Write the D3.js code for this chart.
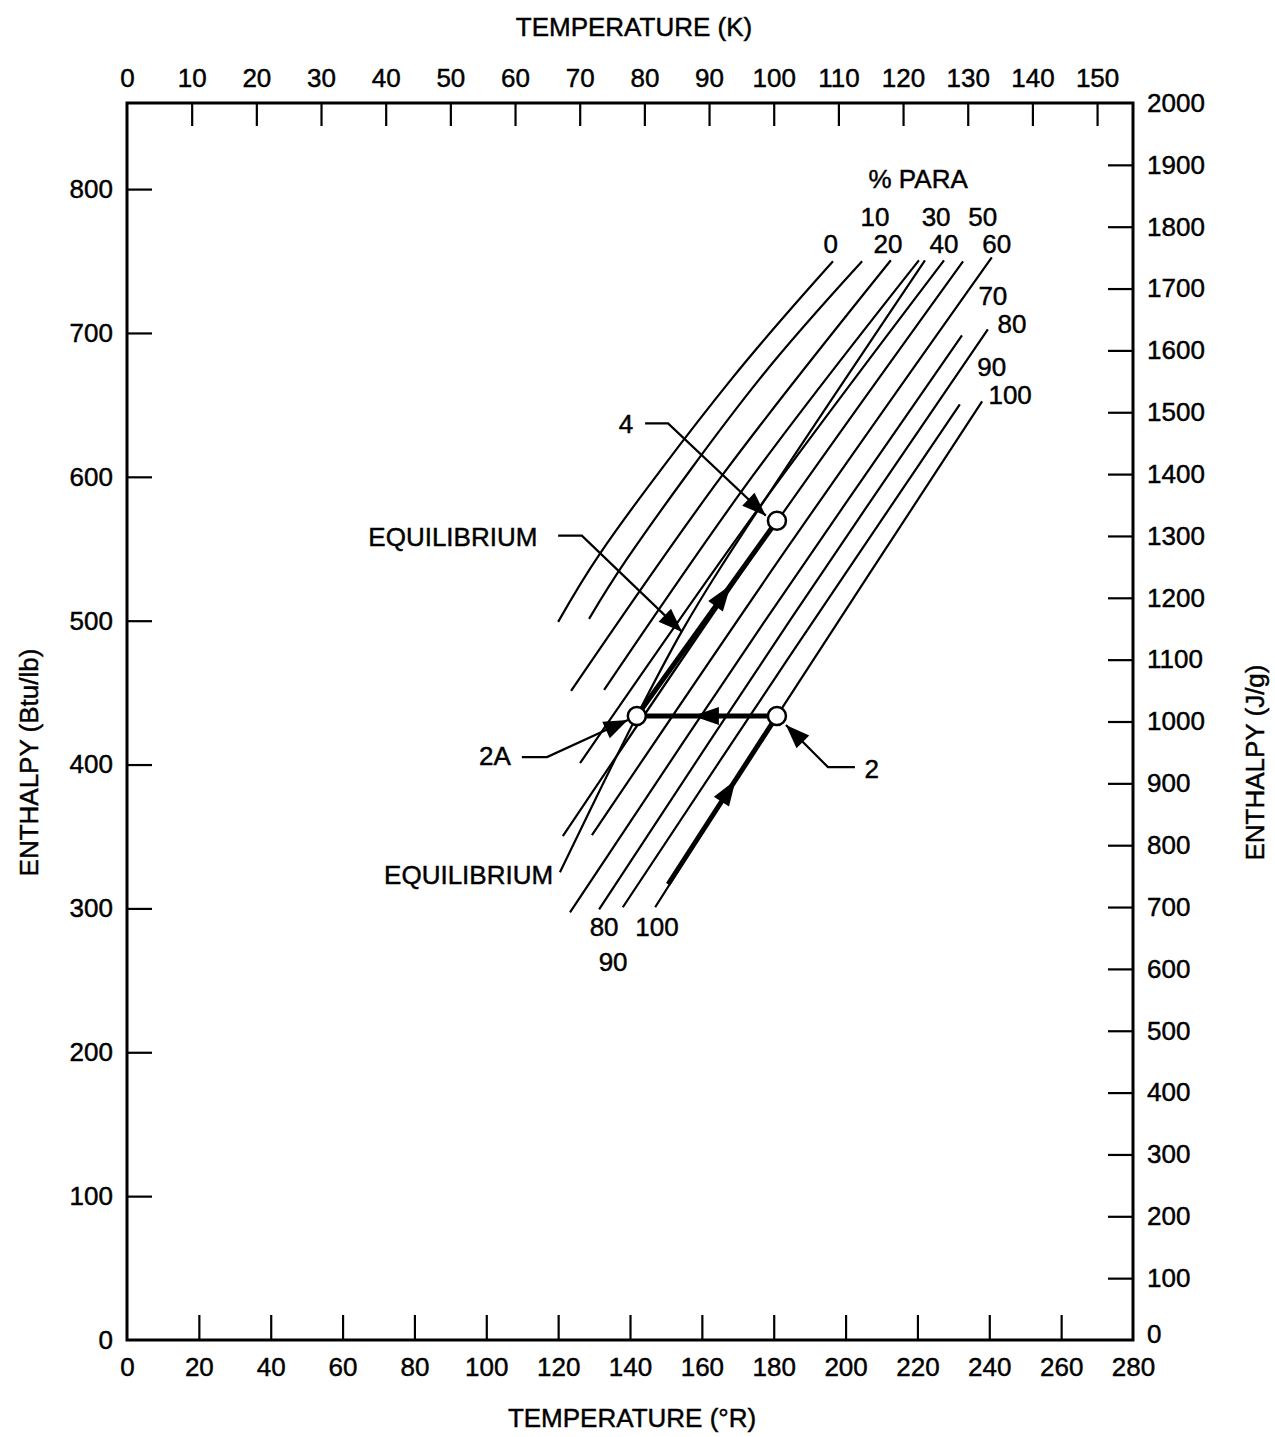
<!DOCTYPE html>
<html>
<head>
<meta charset="utf-8">
<script src="https://cdn.jsdelivr.net/npm/d3@7"></script>
<style>
  body { margin: 0; background: #fff; }
  svg text { font-family: "Liberation Sans", Arial, sans-serif; fill: #000; stroke: #000; stroke-width: 0.45px; }
</style>
</head>
<body>
<div id="chart"></div>
<script>
// tick values
var rankineTicks = [0, 20, 40, 60, 80, 100, 120, 140, 160, 180, 200, 220, 240, 260, 280];
var kelvinTicks = [0, 10, 20, 30, 40, 50, 60, 70, 80, 90, 100, 110, 120, 130, 140, 150];
var btuTicks = [0, 100, 200, 300, 400, 500, 600, 700, 800];
var jgTicks = [0, 100, 200, 300, 400, 500, 600, 700, 800, 900, 1000, 1100, 1200, 1300, 1400, 1500, 1600, 1700, 1800, 1900, 2000];

// % para curves, [temperature (R), enthalpy (Btu/lb)]
var paraLevels = [0, 10, 20, 30, 40, 50, 60, 70, 80, 90, 100];
var para0 = [[120.0, 499.2], [131.6, 546.5], [168.4, 668.4], [196.5, 749.8]];
var para10 = [[128.6, 501.3], [139.2, 543.1], [176.2, 668.4], [204.6, 749.8]];
var para20 = [[123.6, 451.2], [165.6, 600.8], [212.6, 750.5]];
var para30 = [[132.8, 451.9], [174.2, 600.8], [220.4, 750.5]];
var para40 = [[126.1, 401.0], [175.1, 575.8], [227.4, 750.5]];
var para50 = [[121.3, 350.2], [175.6, 550.0], [232.7, 749.8]];
var para60 = [[129.4, 350.9], [184.0, 551.4], [240.7, 752.6]];
var para70 = [[123.3, 297.3], [177.0, 497.8], [232.4, 698.3]];
var para80 = [[131.4, 299.4], [184.8, 501.3], [239.6, 702.5]];
var para90 = [[138.0, 300.8], [184.5, 475.5], [231.8, 650.3]];
var para100 = [[147.0, 300.8], [180.9, 433.8], [238.0, 652.4]];
var equilibrium = [[120.5, 325.1], [141.9, 433.8], [154.5, 492.9], [165.0, 536.1], [222.1, 750.5]];

// curve labels [text, T, H]
var topLabels = [["0", 195.9, 762.4], ["10", 208.2, 781.2], ["20", 211.8, 762.4], ["30", 225.2, 781.2],
  ["40", 227.4, 762.4], ["50", 238.2, 781.2], ["60", 242.1, 762.4], ["70", 241.0, 726.2],
  ["80", 246.3, 706.7], ["90", 240.7, 676.7], ["100", 245.8, 657.3]];
var bottomLabels = [["80", 132.8, 287.5], ["100", 147.5, 287.5], ["90", 135.3, 263.2]];

// process states
var pathStart = [150.6, 316.8];
var state2 = [180.9, 433.8];
var state2A = [141.9, 433.8];
var state4 = [180.9, 569.5];

// annotations: label position, leader points (last = arrow tip)
var notes = [
  { text: "4", at: [138.9, 637.1], leader: [[144.2, 637.1], [150.6, 637.1], [177.8, 573.0]] },
  { text: "EQUILIBRIUM", at: [90.7, 558.4], leader: [[120.0, 559.1], [126.6, 559.1], [154.5, 492.2]] },
  { text: "2A", at: [102.4, 405.9], leader: [[109.9, 405.2], [116.9, 405.2], [139.4, 431.0]] },
  { text: "2", at: [207.3, 396.9], leader: [[202.6, 398.2], [195.1, 398.2], [183.4, 427.5]] }
];

function drawChart() {
  var width = 1275, height = 1437;
  var pl = 127, pr = 1133, pt = 103, pb = 1340;

  var svg = d3.select("#chart").append("svg")
    .attr("width", width)
    .attr("height", height);

  var x = d3.scaleLinear().domain([0, 280]).range([pl, pr]);
  var y = d3.scaleLinear().domain([0, 2000 / 2.326]).range([pb, pt]);
  var xK = d3.scaleLinear().domain([0, 280 / 1.8]).range([pl, pr]);
  var yJ = d3.scaleLinear().domain([0, 2000]).range([pb, pt]);

  function styleAxis(g) {
    g.select(".domain").remove();
    g.selectAll(".tick line").attr("stroke", "#000").attr("stroke-width", 2.2);
    g.selectAll(".tick text").style("font-size", "26px").style("font-family", "'Liberation Sans', Arial, sans-serif");
  }

  svg.append("g")
    .attr("transform", "translate(0," + pb + ")")
    .call(d3.axisBottom(x).tickValues(rankineTicks).tickSize(-25).tickPadding(18).tickFormat(d3.format("d")))
    .call(styleAxis)
    .call(function (g) { g.selectAll(".tick line").filter(function (d) { return d == 0 || d == 280; }).remove(); });

  svg.append("g")
    .attr("transform", "translate(0," + pt + ")")
    .call(d3.axisTop(xK).tickValues(kelvinTicks).tickSize(-23).tickPadding(16).tickFormat(d3.format("d")))
    .call(styleAxis)
    .call(function (g) { g.selectAll(".tick line").filter(function (d) { return d == 0; }).remove(); });

  svg.append("g")
    .attr("transform", "translate(" + pl + ",0)")
    .call(d3.axisLeft(y).tickValues(btuTicks).tickSize(-25).tickPadding(14).tickFormat(d3.format("d")))
    .call(styleAxis)
    .call(function (g) { g.selectAll(".tick line").filter(function (d) { return d == 0; }).remove(); });

  svg.append("g")
    .attr("transform", "translate(" + pr + ",0)")
    .call(d3.axisRight(yJ).tickValues(jgTicks).tickSize(-25).tickPadding(14).tickFormat(d3.format("d")))
    .call(styleAxis)
    .call(function (g) { g.selectAll(".tick line").filter(function (d) { return d == 0 || d == 2000; }).remove(); })
    .call(function (g) { g.selectAll(".tick text").filter(function (d) { return d == 0; }).attr("dy", "0.1em"); });

  // frame
  svg.append("rect")
    .attr("x", pl).attr("y", pt)
    .attr("width", pr - pl).attr("height", pb - pt)
    .attr("fill", "none").attr("stroke", "#000").attr("stroke-width", 3);

  // axis titles
  svg.append("text").attr("x", (pl + pr) / 2 + 4).attr("y", 36)
    .attr("text-anchor", "middle").style("font-size", "26px").text("TEMPERATURE (K)");
  svg.append("text").attr("x", (pl + pr) / 2 + 2).attr("y", 1427)
    .attr("text-anchor", "middle").style("font-size", "26px").text("TEMPERATURE (°R)");
  svg.append("text").attr("transform", "translate(38," + (y(400) - 2) + ") rotate(-90)")
    .attr("text-anchor", "middle").style("font-size", "26px").text("ENTHALPY (Btu/lb)");
  svg.append("text").attr("transform", "translate(1264," + (y(400) - 2) + ") rotate(-90)")
    .attr("text-anchor", "middle").style("font-size", "26px").text("ENTHALPY (J/g)");

  // para curves
  var line = d3.line()
    .x(function (d) { return x(d[0]); })
    .y(function (d) { return y(d[1]); })
    .curve(d3.curveCatmullRom);

  var curves = [para0, para10, para20, para30, para40, para50, para60, para70, para80, para90, para100, equilibrium];
  svg.append("g").selectAll("path")
    .data(curves)
    .enter()
    .append("path")
    .attr("d", line)
    .attr("fill", "none")
    .attr("stroke", "#000")
    .attr("stroke-width", 2.2);

  svg.append("g").selectAll("text")
    .data(topLabels.concat(bottomLabels))
    .enter()
    .append("text")
    .attr("x", function (d) { return x(d[1]); })
    .attr("y", function (d) { return y(d[2]); })
    .attr("dy", "0.36em")
    .attr("text-anchor", "middle")
    .style("font-size", "26px")
    .text(function (d) { return d[0]; });

  svg.append("text").attr("x", x(220.2)).attr("y", y(807.6)).attr("dy", "0.36em")
    .attr("text-anchor", "middle").style("font-size", "26px").text("% PARA");
  svg.append("text").attr("x", x(118.6)).attr("y", y(323.7)).attr("dy", "0.36em")
    .attr("text-anchor", "end").style("font-size", "26px").text("EQUILIBRIUM");

  // arrow head with tip at (x2,y2) pointing from (x1,y1)
  function arrowHead(g, x1, y1, x2, y2, len, half) {
    var a = Math.atan2(y2 - y1, x2 - x1);
    var bx = x2 - len * Math.cos(a), by = y2 - len * Math.sin(a);
    var px = -Math.sin(a) * half, py = Math.cos(a) * half;
    g.append("path")
      .attr("d", "M" + x2 + "," + y2 + "L" + (bx + px) + "," + (by + py) + "L" + (bx - px) + "," + (by - py) + "Z")
      .attr("fill", "#000");
  }

  // process path: start -> 2 -> 2A -> 4
  var proc = svg.append("g");
  var segs = [[pathStart, state2, 0.62], [state2, state2A, 0.6], [state2A, state4, 0.67]];
  segs.forEach(function (s) {
    var x1 = x(s[0][0]), y1 = y(s[0][1]), x2 = x(s[1][0]), y2 = y(s[1][1]);
    proc.append("line")
      .attr("x1", x1).attr("y1", y1).attr("x2", x2).attr("y2", y2)
      .attr("stroke", "#000").attr("stroke-width", 5);
    var tx = x1 + (x2 - x1) * s[2], ty = y1 + (y2 - y1) * s[2];
    arrowHead(proc, x1, y1, tx, ty, 26, 9);
  });

  proc.selectAll("circle")
    .data([state2, state2A, state4])
    .enter()
    .append("circle")
    .attr("cx", function (d) { return x(d[0]); })
    .attr("cy", function (d) { return y(d[1]); })
    .attr("r", 9)
    .attr("fill", "#fff")
    .attr("stroke", "#000")
    .attr("stroke-width", 2.5);

  // annotation leaders
  notes.forEach(function (n) {
    var g = svg.append("g");
    g.append("text")
      .attr("x", x(n.at[0])).attr("y", y(n.at[1])).attr("dy", "0.36em")
      .attr("text-anchor", "middle").style("font-size", "26px").text(n.text);
    g.append("path")
      .attr("d", d3.line().x(function (d) { return x(d[0]); }).y(function (d) { return y(d[1]); })(n.leader))
      .attr("fill", "none").attr("stroke", "#000").attr("stroke-width", 2.2);
    var p = n.leader[n.leader.length - 2], q = n.leader[n.leader.length - 1];
    arrowHead(g, x(p[0]), y(p[1]), x(q[0]), y(q[1]), 24, 9);
  });
}

drawChart();
</script>
</body>
</html>
